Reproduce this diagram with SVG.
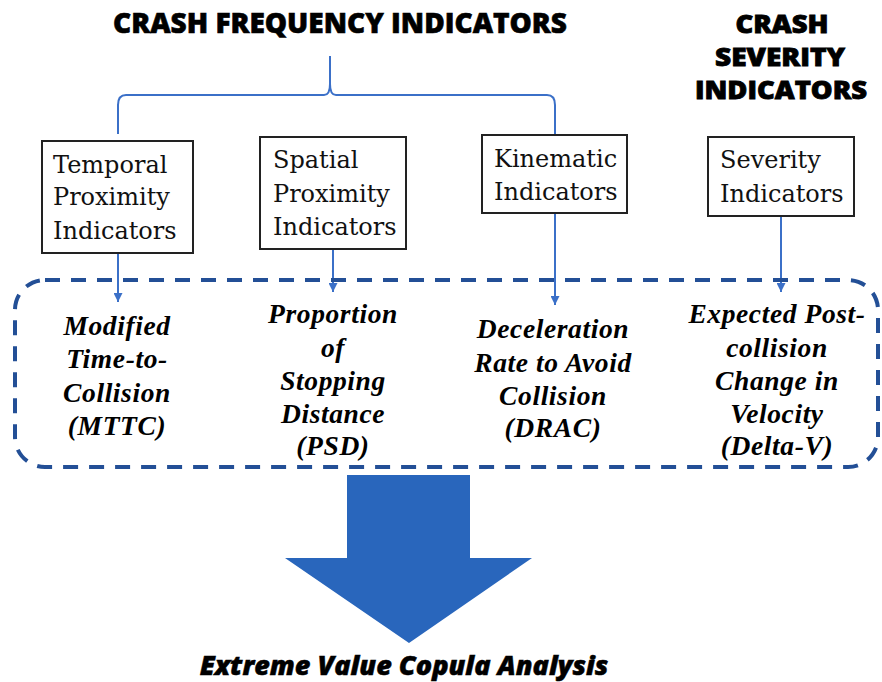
<svg xmlns="http://www.w3.org/2000/svg" width="882" height="682" viewBox="0 0 882 682">
<defs>
<style>
.title{font-family:"Open Sans","Liberation Sans",sans-serif;font-weight:800;font-size:28px;fill:#000;text-anchor:middle;stroke:#000;stroke-width:0.6}
.title2{font-family:"Open Sans","Liberation Sans",sans-serif;font-weight:800;font-size:24px;fill:#000;text-anchor:middle;stroke:#000;stroke-width:0.8}
.box{fill:#fff;stroke:#222;stroke-width:2}
.bt{font-family:"DejaVu Serif","Liberation Serif",serif;font-size:24px;fill:#111}
.it{font-family:"Liberation Serif","Times New Roman",serif;font-weight:bold;font-style:italic;font-size:27.5px;letter-spacing:0.6px;fill:#000;text-anchor:middle}
.conn{fill:none;stroke:#3B70C8;stroke-width:2}
.bottom{font-family:"Open Sans","Liberation Sans",sans-serif;font-weight:800;font-style:italic;font-size:27px;fill:#000;text-anchor:middle;stroke:#000;stroke-width:0.5}
</style>
<marker id="ah" viewBox="0 0 10 10" refX="10" refY="5" markerWidth="4.5" markerHeight="4.5" orient="auto" markerUnits="strokeWidth">
<path d="M0,0 L10,5 L0,10 z" fill="#3B70C8"/>
</marker>
</defs>
<rect width="882" height="682" fill="#fff"/>
<text class="title" x="340" y="33">CRASH FREQUENCY INDICATORS</text>
<g id="severity-title">
<text class="title2" x="782" y="33" textLength="93" lengthAdjust="spacingAndGlyphs">CRASH</text>
<text class="title2" x="780" y="66" textLength="130" lengthAdjust="spacingAndGlyphs">SEVERITY</text>
<text class="title2" x="781" y="99" textLength="172" lengthAdjust="spacingAndGlyphs">INDICATORS</text>
</g>

<g id="connectors">
<path class="conn" d="M330,56 L330,84 Q330,95 324,95 L126,95 Q118,95 118,105 L118,134"/>
<path class="conn" d="M330,84 Q330,95 336,95 L547,95 Q555,95 555,105 L555,134"/>
<line class="conn" x1="118" y1="253" x2="118" y2="302" marker-end="url(#ah)"/>
<line class="conn" x1="333" y1="249" x2="333" y2="292" marker-end="url(#ah)"/>
<line class="conn" x1="555" y1="213" x2="555" y2="305" marker-end="url(#ah)"/>
<line class="conn" x1="781" y1="216" x2="781" y2="292" marker-end="url(#ah)"/>
</g>

<g id="temporal">
<rect class="box" x="42" y="141" width="151" height="112"/>
<text class="bt" x="53" y="173">Temporal</text>
<text class="bt" x="53" y="205">Proximity</text>
<text class="bt" x="53" y="239">Indicators</text>
</g>
<g id="spatial">
<rect class="box" x="260" y="137" width="146" height="112"/>
<text class="bt" x="273" y="168">Spatial</text>
<text class="bt" x="273" y="202">Proximity</text>
<text class="bt" x="273" y="235">Indicators</text>
</g>
<g id="kinematic">
<rect class="box" x="482" y="135" width="145" height="78"/>
<text class="bt" x="494" y="167">Kinematic</text>
<text class="bt" x="494" y="200">Indicators</text>
</g>
<g id="severity">
<rect class="box" x="708" y="137" width="146" height="79"/>
<text class="bt" x="720" y="168">Severity</text>
<text class="bt" x="720" y="202">Indicators</text>
</g>

<g id="measures">
<rect x="15" y="280" width="863" height="187" rx="30" ry="30" fill="none" stroke="#234F96" stroke-width="4" stroke-dasharray="15 11"/>
<g id="mttc">
<text class="it" x="117" y="335">Modified</text>
<text class="it" x="117" y="368">Time-to-</text>
<text class="it" x="117" y="402">Collision</text>
<text class="it" x="117" y="435">(MTTC)</text>
</g>
<g id="psd">
<text class="it" x="333" y="323">Proportion</text>
<text class="it" x="333" y="357">of</text>
<text class="it" x="333" y="390">Stopping</text>
<text class="it" x="333" y="423">Distance</text>
<text class="it" x="333" y="455">(PSD)</text>
</g>
<g id="drac">
<text class="it" x="553" y="338">Deceleration</text>
<text class="it" x="553" y="372">Rate to Avoid</text>
<text class="it" x="553" y="405">Collision</text>
<text class="it" x="553" y="437">(DRAC)</text>
</g>
<g id="deltav">
<text class="it" x="777" y="323">Expected Post-</text>
<text class="it" x="777" y="357">collision</text>
<text class="it" x="777" y="390">Change in</text>
<text class="it" x="777" y="423">Velocity</text>
<text class="it" x="777" y="455">(Delta-V)</text>
</g>
</g>

<g id="big-arrow">
<path d="M347,475 L470,475 L470,558 L532,558 L409,643 L285,558 L347,558 Z" fill="#2966BC"/>
</g>
<g id="evca">
<text class="bottom" x="404" y="675">Extreme Value Copula Analysis</text>
</g>
</svg>
